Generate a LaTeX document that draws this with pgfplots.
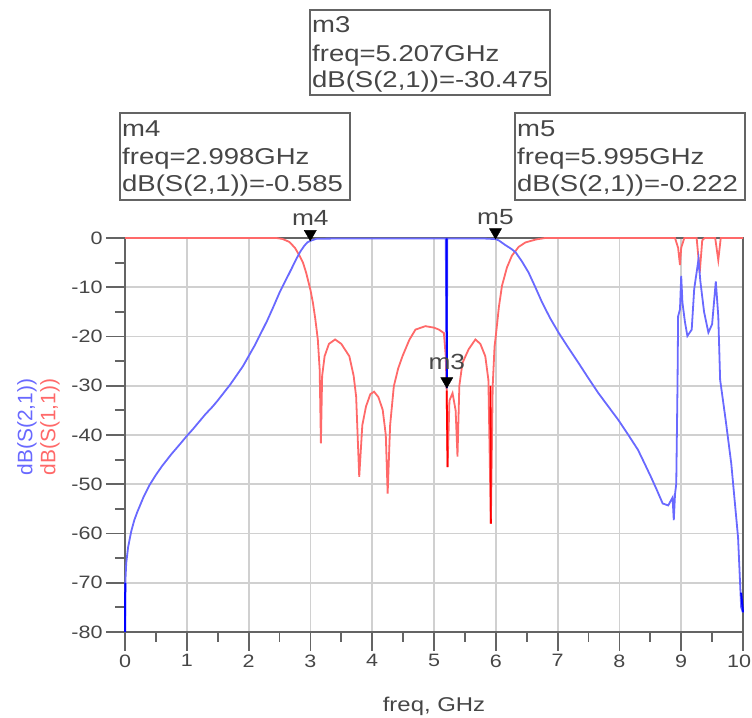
\documentclass[border=0pt]{standalone}
\usepackage{fontspec}
\setmainfont{Liberation Sans}[FakeStretch=1.2]
\newfontfamily\plainsans{Liberation Sans}
\usepackage{pgfplots}
\pgfplotsset{compat=1.18}
\definecolor{sblue}{RGB}{105,105,255}
\definecolor{sred}{RGB}{255,105,105}
\definecolor{axgray}{RGB}{100,100,100}
\definecolor{gridgray}{RGB}{208,208,208}
\definecolor{txtgray}{RGB}{70,70,70}

\begin{document}
\begin{tikzpicture}
\path[use as bounding box] (0,0) rectangle (752bp,718bp);
\begin{axis}[
  at={(125bp,86bp)}, anchor=south west,
  width=618bp, height=394bp, scale only axis,
  xmin=0, xmax=10, ymin=-80, ymax=0,
  xtick={0,...,10}, ytick={-80,-70,...,0},
  xticklabels={0,1,2,3,4,5,6,7,8,9,{\makebox[0pt]{\hspace*{-8bp}10}}},
  minor x tick num=1, minor y tick num=1,
  tick align=outside, tick pos=left,
  major tick length=19bp, minor tick length=10bp,
  tick style={axgray, line width=1.8bp},
  axis line style={axgray, line width=1.8bp},
  grid=major, major grid style={gridgray, line width=1.8bp},
  clip=false,
  ticklabel style={font=\fontsize{18}{20}\selectfont, text=txtgray},
  /pgf/number format/assume math mode=true,
  xlabel={freq, GHz},
  xlabel style={at={(axis description cs:0.5,-0.203)}, anchor=base,
    font=\fontsize{20}{22}\selectfont, text=txtgray},
  ylabel={\textcolor{sblue}{dB(S(2,1))}\\\textcolor{sred}{dB(S(1,1))}},
  ylabel style={at={(axis description cs:-0.14,0.52)}, anchor=center,
    align=center, font=\plainsans\fontsize{21}{23}\selectfont},
]
% dB(S(1,1))
\addplot[sred, line width=1.8bp] coordinates {
 (0,0) (2.45,0) (2.55,-0.2) (2.66,-0.8) (2.75,-2) (2.82,-3.5) (2.88,-5)
 (2.93,-7) (3.0,-10.5) (3.04,-13.1) (3.08,-16.5) (3.12,-20.6) (3.15,-26.7)
 (3.17,-41.7) (3.19,-28) (3.23,-24) (3.3,-21.5) (3.4,-20.6) (3.5,-21.5)
 (3.63,-24) (3.7,-28) (3.74,-32.2) (3.79,-48.5) (3.84,-38) (3.9,-34.2)
 (3.97,-31.7) (4.03,-31.2) (4.1,-32.3) (4.17,-34.9) (4.22,-40) (4.25,-51.9)
 (4.29,-38) (4.35,-30.1) (4.42,-26.5) (4.49,-24) (4.6,-20.7) (4.7,-18.6)
 (4.86,-17.9) (5.0,-18.2) (5.08,-18.6) (5.16,-19.3) (5.19,-24) (5.205,-30.8)
 (5.22,-46.5) (5.25,-33) (5.3,-31.5) (5.35,-35) (5.38,-44.4) (5.41,-30)
 (5.46,-25.4) (5.56,-22.6) (5.67,-20.6) (5.75,-21.5) (5.83,-24) (5.88,-28.8)
 (5.92,-58) (5.95,-30) (5.98,-22) (6.0,-19.9) (6.05,-14) (6.1,-9.7)
 (6.18,-6) (6.26,-3.6) (6.37,-1.8) (6.48,-0.9) (6.65,-0.3) (6.8,0) (8.9,0)
 (8.95,-2) (8.98,-5.5) (9.0,-2) (9.05,0) (9.25,0) (9.3,-7) (9.34,-0.5)
 (9.38,0) (9.55,0) (9.6,-4.5) (9.64,0) (10,0)
};
% dB(S(2,1))
\addplot[sblue, line width=1.8bp] coordinates {
 (0,-80) (0.005,-70) (0.02,-66) (0.05,-62.8) (0.1,-59.6) (0.15,-57.3)
 (0.2,-55.6) (0.3,-52.6) (0.4,-50.1) (0.5,-48.1) (0.6,-46.3) (0.75,-43.9)
 (0.9,-41.7) (1.0,-40.2) (1.1,-38.8) (1.2,-37.3) (1.3,-35.8) (1.42,-34.2)
 (1.5,-33) (1.6,-31.4) (1.7,-29.8) (1.8,-28) (1.91,-26) (2.0,-24)
 (2.1,-21.8) (2.2,-19.3) (2.3,-16.8) (2.4,-14) (2.5,-11.1) (2.6,-8.6)
 (2.7,-6.1) (2.77,-4.3) (2.84,-2.7) (2.9,-1.6) (2.95,-0.9) (2.998,-0.585)
 (3.1,-0.15) (3.5,-0.1) (4.0,-0.1) (4.5,-0.1) (5.0,-0.1) (5.19,-0.1)
 (5.207,-30.475) (5.215,-0.1) (5.5,-0.1) (5.8,-0.1) (5.995,-0.222)
 (6.05,-0.5) (6.15,-1.4) (6.25,-2.2) (6.32,-2.9) (6.42,-4.7) (6.53,-7)
 (6.64,-10) (6.75,-13.1) (6.88,-16.3) (7.02,-19.3) (7.18,-22.4) (7.34,-25.4)
 (7.5,-28.5) (7.66,-31.5) (7.82,-34.2) (7.98,-36.9) (8.14,-39.9) (8.3,-43)
 (8.4,-45.6) (8.51,-48.5) (8.6,-51) (8.7,-53.9) (8.79,-54.3) (8.86,-52.7)
 (8.88,-57.3) (8.9,-52) (8.92,-49.9) (8.94,-30.1) (8.95,-15.9) (8.98,-14.5)
 (9.0,-7.7) (9.02,-13.1) (9.06,-17) (9.1,-19.9) (9.17,-18.6) (9.21,-10.4)
 (9.28,-4.3) (9.31,-8.8) (9.37,-15) (9.44,-19.2) (9.5,-17.5) (9.56,-8.8)
 (9.6,-15.9) (9.63,-28.8) (9.72,-37) (9.81,-45.8) (9.92,-60.8) (9.97,-75)
 (10,-76)
};
% dense sweep segments drawn darker
\addplot[blue, line width=2bp] coordinates {(0,-80) (0.005,-70)};
\addplot[blue, line width=2bp] coordinates {(5.205,-0.1) (5.207,-30.475)};
\addplot[blue, line width=2bp] coordinates {(9.97,-72) (10,-76)};
\addplot[red, line width=1.8bp] coordinates {(5.205,-31) (5.22,-46.5)};
\addplot[red, line width=1.8bp] coordinates {(5.915,-30) (5.92,-58)};
% markers
\addplot[only marks, mark=triangle*, mark size=7bp,
  mark options={fill=black, draw=black, yshift=7bp, rotate=180}]
  coordinates {(2.998,-0.585)}
  node[anchor=base, yshift=15bp, text=txtgray, font=\fontsize{22}{24}\selectfont] {m4};
\addplot[only marks, mark=triangle*, mark size=7bp,
  mark options={fill=black, draw=black, yshift=7bp, rotate=180}]
  coordinates {(5.995,-0.222)}
  node[anchor=base, yshift=15bp, text=txtgray, font=\fontsize{22}{24}\selectfont] {m5};
\addplot[only marks, mark=triangle*, mark size=7bp,
  mark options={fill=black, draw=black, yshift=7bp, rotate=180}]
  coordinates {(5.207,-30.475)}
  node[anchor=base, yshift=19bp, text=txtgray, font=\fontsize{22}{24}\selectfont] {m3};
\end{axis}

% marker readouts
\begin{scope}[every node/.style={anchor=base west, inner sep=0pt, text=txtgray,
    font=\fontsize{23}{27}\selectfont}]
\draw[axgray, line width=1.8bp] (310bp,623bp) rectangle (550bp,708bp);
\node at (312bp,685bp) {m3};
\node at (312bp,656bp) {freq=5.207GHz};
\node at (312bp,630bp) {dB(S(2,1))=-30.475};
\draw[axgray, line width=1.8bp] (120bp,518bp) rectangle (350bp,605bp);
\node at (122bp,581bp) {m4};
\node at (122bp,553bp) {freq=2.998GHz};
\node at (122bp,526bp) {dB(S(2,1))=-0.585};
\draw[axgray, line width=1.8bp] (515bp,518bp) rectangle (745bp,605bp);
\node at (517bp,581bp) {m5};
\node at (517bp,553bp) {freq=5.995GHz};
\node at (517bp,526bp) {dB(S(2,1))=-0.222};
\end{scope}
\end{tikzpicture}
\end{document}
